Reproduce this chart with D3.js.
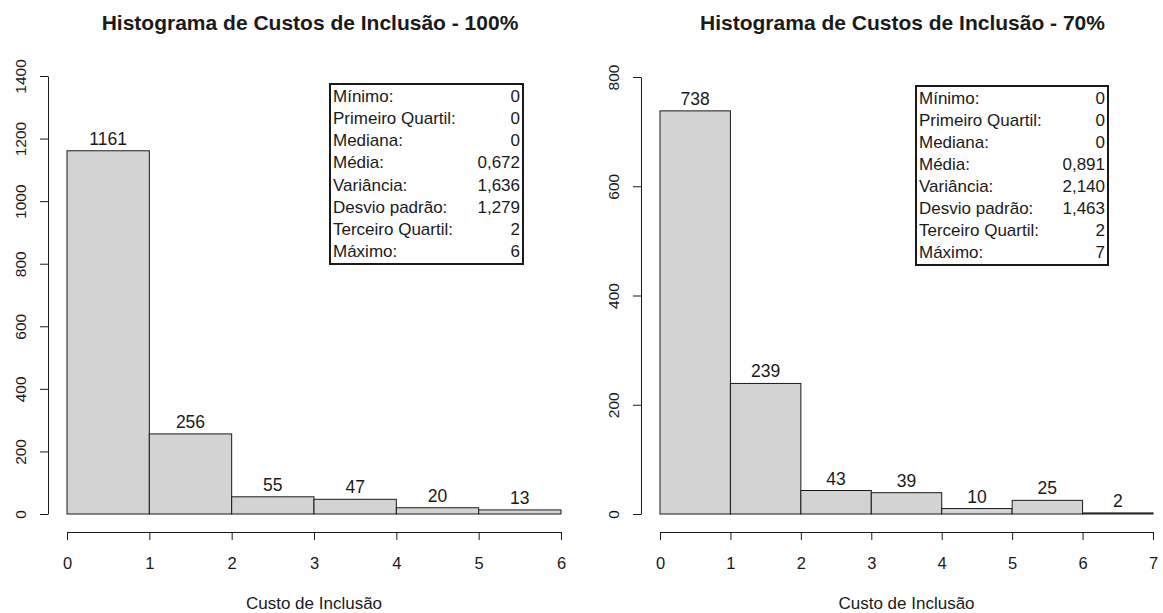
<!DOCTYPE html>
<html>
<head>
<meta charset="utf-8">
<script src="https://cdn.jsdelivr.net/npm/d3@7"></script>
<style>
  html, body { margin: 0; padding: 0; background: #fff; }
  svg { display: block; font-family: "Liberation Sans", Arial, sans-serif; }
</style>
</head>
<body>
<svg id="chart" width="1163" height="613"></svg>
<script>
// ---- data ----
const titleA = "Histograma de Custos de Inclusão - 100%";
const titleB = "Histograma de Custos de Inclusão - 70%";
const xLabel = "Custo de Inclusão";

const breaksA = [0, 1, 2, 3, 4, 5, 6];
const countsA = [1161, 256, 55, 47, 20, 13];
const yTicksA = [0, 200, 400, 600, 800, 1000, 1200, 1400];

const breaksB = [0, 1, 2, 3, 4, 5, 6, 7];
const countsB = [738, 239, 43, 39, 10, 25, 2];
const yTicksB = [0, 200, 400, 600, 800];

const statLabels = ["Mínimo:", "Primeiro Quartil:", "Mediana:", "Média:", "Variância:", "Desvio padrão:", "Terceiro Quartil:", "Máximo:"];
const statValuesA = ["0", "0", "0", "0,672", "1,636", "1,279", "2", "6"];
const statValuesB = ["0", "0", "0", "0,891", "2,140", "1,463", "2", "7"];

// ---- drawing ----
const svg = d3.select("#chart");
const ink = "#1a1a1a";

function panel(cfg) {
  const g = svg.append("g");
  const x = d3.scaleLinear().domain([cfg.breaks[0], cfg.breaks[cfg.breaks.length - 1]]).range([cfg.x0, cfg.x1]);
  const y = d3.scaleLinear().domain([0, cfg.yMax]).range([cfg.yBase, cfg.yTop]);

  // title
  g.append("text").attr("x", (cfg.x0 + cfg.x1) / 2 - 4).attr("y", 30)
    .attr("text-anchor", "middle").attr("font-weight", "bold").attr("font-size", 21)
    .attr("fill", ink).text(cfg.title);

  // bars
  const bins = cfg.counts.map((c, i) => ({ a: cfg.breaks[i], b: cfg.breaks[i + 1], c }));
  g.selectAll("rect.bar").data(bins).enter().append("rect")
    .attr("class", "bar")
    .attr("x", d => x(d.a)).attr("width", d => x(d.b) - x(d.a))
    .attr("y", d => y(d.c)).attr("height", d => y(0) - y(d.c))
    .attr("fill", "#d3d3d3").attr("stroke", ink).attr("stroke-width", 1);

  // bar labels
  g.selectAll("text.lab").data(bins).enter().append("text")
    .attr("x", d => (x(d.a) + x(d.b)) / 2).attr("y", d => y(d.c) - 6)
    .attr("text-anchor", "middle").attr("font-size", 17.5).attr("fill", ink)
    .text(d => d.c);

  // x axis
  const xa = g.append("g").attr("transform", `translate(0,${cfg.xAxisY})`)
    .call(d3.axisBottom(x).tickValues(cfg.breaks).tickFormat(d3.format("d")).tickSize(8).tickPadding(17).tickSizeOuter(0));
  xa.select(".domain").attr("stroke", ink);
  xa.selectAll(".tick line").attr("stroke", ink);
  xa.selectAll(".tick text").attr("font-size", 16.5).attr("fill", ink).attr("font-family", "Liberation Sans, Arial, sans-serif");

  g.append("text").attr("x", (cfg.x0 + cfg.x1) / 2).attr("y", 609)
    .attr("text-anchor", "middle").attr("font-size", 17).attr("fill", ink).text(xLabel);

  // y axis
  const ya = g.append("g").attr("transform", `translate(${cfg.yAxisX},0)`)
    .call(d3.axisLeft(y).tickValues(cfg.yTicks).tickFormat(d3.format("d")).tickSize(8).tickSizeOuter(0));
  ya.select(".domain").attr("stroke", ink);
  ya.selectAll(".tick line").attr("stroke", ink);
  ya.selectAll(".tick text")
    .attr("font-size", 15.5).attr("fill", ink).attr("font-family", "Liberation Sans, Arial, sans-serif")
    .attr("x", null).attr("dy", null)
    .attr("text-anchor", "middle")
    .attr("transform", `translate(${-(cfg.yAxisX - cfg.yLabX)},0) rotate(-90)`)
    .attr("y", 0).attr("dominant-baseline", "central");

  // stats box
  const bx = cfg.box;
  g.append("rect").attr("x", bx.x).attr("y", bx.y).attr("width", bx.w).attr("height", bx.h)
    .attr("fill", "#fff").attr("stroke", ink).attr("stroke-width", 2);
  const rowH = (bx.h - 2) / statLabels.length;
  statLabels.forEach((s, i) => {
    const ty = bx.y + 1 + rowH * (i + 0.5);
    g.append("text").attr("x", bx.x + 3).attr("y", ty).attr("dominant-baseline", "central")
      .attr("font-size", 17).attr("fill", ink).text(s);
    g.append("text").attr("x", bx.x + bx.w - 3).attr("y", ty).attr("dominant-baseline", "central")
      .attr("text-anchor", "end").attr("font-size", 17).attr("fill", ink).text(cfg.stats[i]);
  });
}

panel({
  title: titleA, breaks: breaksA, counts: countsA, yTicks: yTicksA, yMax: 1400,
  x0: 67, x1: 561, yBase: 514, yTop: 76, xAxisY: 532, yAxisX: 48, yLabX: 20,
  box: { x: 330, y: 84, w: 193, h: 180 }, stats: statValuesA
});
panel({
  title: titleB, breaks: breaksB, counts: countsB, yTicks: yTicksB, yMax: 800,
  x0: 660, x1: 1153, yBase: 514, yTop: 77, xAxisY: 532, yAxisX: 641, yLabX: 613,
  box: { x: 916, y: 86, w: 192, h: 179 }, stats: statValuesB
});
</script>
</body>
</html>
